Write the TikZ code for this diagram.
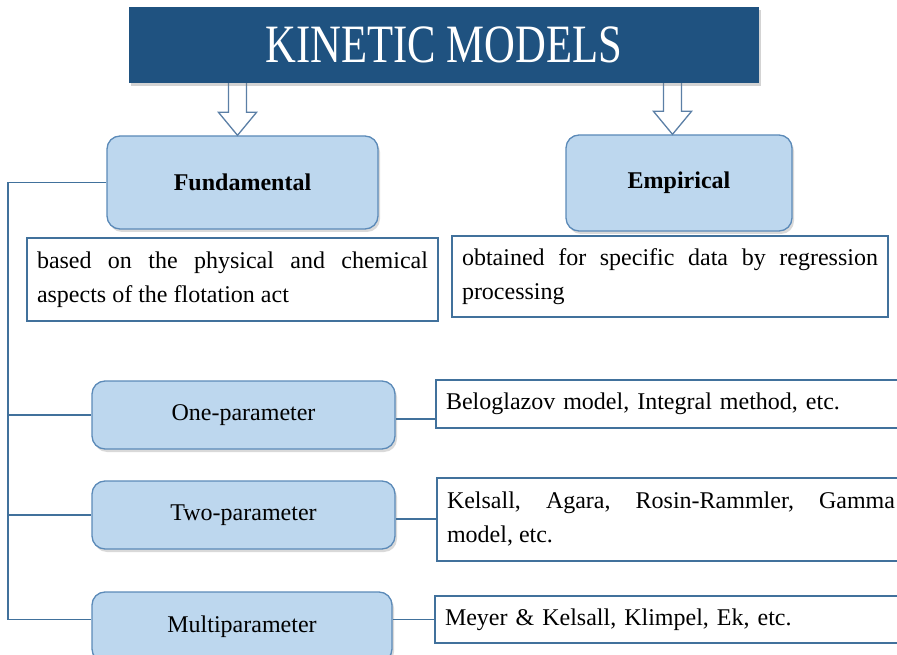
\documentclass[tikz,border=0pt]{standalone}
\usepackage{fontspec}
\setmainfont{Liberation Serif}
\usetikzlibrary{shadows,calc}
\definecolor{titleblue}{HTML}{1F5280}
\definecolor{boxfill}{HTML}{BDD7EE}
\definecolor{boxline}{HTML}{5B8AB8}
\definecolor{lineblue}{HTML}{41719C}
\definecolor{arrline}{HTML}{5B7FA6}
\begin{document}
\begin{tikzpicture}[x=1pt,y=-1pt,
  titlebox/.style={fill=titleblue, text=white, inner sep=0pt,
    drop shadow={shadow xshift=2pt, shadow yshift=-3pt, opacity=0.35}},
  rbox/.style={rounded corners=13pt, draw=boxline, line width=1.3pt, fill=boxfill,
    drop shadow={shadow xshift=2pt, shadow yshift=-3pt, opacity=0.3},
    font=\fontsize{24}{28}\selectfont, inner sep=0pt},
  tbox/.style={draw=lineblue, line width=1.3pt, fill=white, align=justify,
    inner xsep=10pt, inner ysep=0pt, font=\fontsize{24}{34}\selectfont},
  lbox/.style={tbox, align=left},
  conn/.style={draw=lineblue, line width=1.5pt},
  hollow/.style={draw=arrline, line width=1.3pt, fill=white, line join=miter}
]
\useasboundingbox (0,0) rectangle (897,655);
\clip (0,0) rectangle (897,655);

% boxes (targets of arrows first, for coordinates)
\node[rbox, minimum width=271pt, minimum height=93pt] (fund) at (242.5,182.5) {\textbf{Fundamental}};
\node[rbox, minimum width=226pt, minimum height=96pt] (emp) at (679,183) {\textbf{Empirical}};

% hollow arrows
\coordinate (a1x) at (237.5,0);
\coordinate (a1top) at (237.5,78);
\coordinate (a1tip) at (fund.north -| a1x);
\draw[hollow] ($(a1top)+(-9,0)$) -- ($(a1tip)+(-9,-23)$) -- ($(a1tip)+(-19,-23)$) -- (a1tip)
  -- ($(a1tip)+(19,-23)$) -- ($(a1tip)+(9,-23)$) -- ($(a1top)+(9,0)$);
\coordinate (a2x) at (672.5,0);
\coordinate (a2top) at (672.5,78);
\coordinate (a2tip) at (emp.north -| a2x);
\draw[hollow] ($(a2top)+(-9,0)$) -- ($(a2tip)+(-9,-23)$) -- ($(a2tip)+(-19,-23)$) -- (a2tip)
  -- ($(a2tip)+(19,-23)$) -- ($(a2tip)+(9,-23)$) -- ($(a2top)+(9,0)$);

% title
\node[titlebox, minimum width=630pt, minimum height=76pt] (title) at (444,45)
  {\scalebox{0.79}[1]{\fontsize{54}{54}\selectfont KINETIC MODELS}};

% description boxes
\node[tbox, text width=391pt, minimum height=83pt] (desc1) at (232.5,279.5)
  {based on the physical and chemical\linebreak aspects of the flotation act};
\node[tbox, text width=416pt, minimum height=81pt] (desc2) at (670,276.5)
  {obtained for specific data by regression\linebreak processing};

% parameter boxes
\node[rbox, minimum width=303pt, minimum height=68pt] (one) at (243.5,415) {One-parameter};
\node[rbox, minimum width=303pt, minimum height=68pt] (two) at (243.5,515) {Two-parameter};
\node[rbox, minimum width=300pt, minimum height=70pt] (multi) at (242,627) {Multiparameter};

% example boxes
\node[lbox, text width=449pt, minimum height=48pt] (belo) at (670.5,404)
  {Beloglazov model, Integral method, etc.};
\node[tbox, text width=448pt, minimum height=83pt] (kel) at (671,519.5)
  {Kelsall, Agara, Rosin-Rammler, Gamma\linebreak model, etc.};
\node[lbox, text width=450pt, minimum height=47pt] (meyer) at (670,619.5)
  {Meyer \& Kelsall, Klimpel, Ek, etc.};

% connectors
\coordinate (sp) at (8,0);
\draw[conn] (fund.west) -| (sp |- meyer.west) -- (meyer.west -| multi.west);
\draw[conn] (sp |- one.west) -- (one.west);
\draw[conn] (sp |- two.west) -- (two.west);
\draw[conn] ([yshift=-4pt]one.east) -- ([yshift=-4pt]one.east -| belo.west);
\draw[conn] ([yshift=-4pt]two.east) -- ([yshift=-4pt]two.east -| kel.west);
\draw[conn] (meyer.west -| multi.east) -- (meyer.west);
\end{tikzpicture}
\end{document}
